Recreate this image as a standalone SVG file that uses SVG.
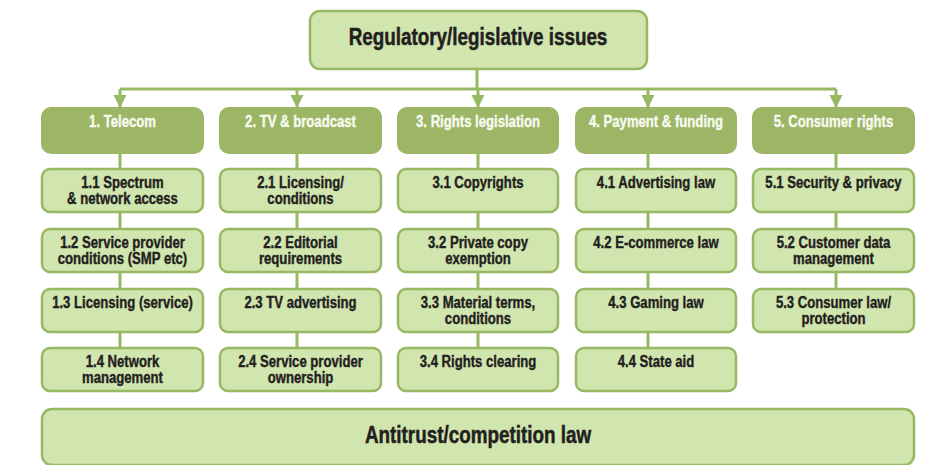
<svg xmlns="http://www.w3.org/2000/svg" width="940" height="465" viewBox="0 0 940 465">
  <defs>
    <style>
      .root { fill: #d1e5ae; stroke: #97b964; stroke-width: 2.5; }
      .head { fill: #9cb665; stroke: #9cb665; stroke-width: 2; }
      .item { fill: #d1e5ae; stroke: #97b964; stroke-width: 2.5; }
      .wire { fill: none; stroke: #97b964; stroke-width: 3; }
      text { font-family: "Liberation Sans", Arial, sans-serif; font-weight: bold; text-anchor: middle; }
      .big { font-size: 23px; fill: #231f20; stroke: #231f20; stroke-width: 0.5; }
      .ht { font-size: 16px; fill: #f8fbf1; stroke: #f8fbf1; stroke-width: 0.35; }
      .it { font-size: 16px; fill: #231f20; stroke: #231f20; stroke-width: 0.4; }
    </style>
    <marker id="arrow" viewBox="0 0 10 10" refX="10" refY="5" markerWidth="4.4" markerHeight="4.4" markerUnits="strokeWidth" orient="auto">
      <path d="M0,0 L10,5 L0,10 Z" fill="#97b964"/>
    </marker>
  </defs>

  <!-- connectors -->
  <g id="connectors">
    <path class="wire" d="M477,69 V89"/>
    <path class="wire" d="M120,89 H836"/>
    <path class="wire" d="M120,89 V108" marker-end="url(#arrow)"/>
    <path class="wire" d="M297,89 V108" marker-end="url(#arrow)"/>
    <path class="wire" d="M478,89 V108" marker-end="url(#arrow)"/>
    <path class="wire" d="M648,89 V108" marker-end="url(#arrow)"/>
    <path class="wire" d="M836,89 V108" marker-end="url(#arrow)"/>
    <path class="wire" d="M120,153 V348"/>
    <path class="wire" d="M297,153 V348"/>
    <path class="wire" d="M478,153 V348"/>
    <path class="wire" d="M648,153 V348"/>
    <path class="wire" d="M836,153 V289"/>
  </g>

  <!-- top node (labels drawn condensed: x scaled to 0.82) -->
  <g id="regulatory">
    <rect class="root" x="310" y="11" width="337" height="58" rx="10"/>
    <text class="big" transform="translate(478 45) scale(0.82 1)">Regulatory/legislative issues</text>
  </g>

  <!-- column 1 -->
  <g id="telecom">
    <rect class="head" x="42" y="108" width="161" height="45" rx="9"/>
    <text class="ht" transform="translate(122.5 127) scale(0.82 1)">1. Telecom</text>
  </g>
  <g id="t1">
    <rect class="item" x="42" y="169" width="161" height="43" rx="8"/>
    <text class="it" transform="translate(122.5 188) scale(0.82 1)">1.1 Spectrum</text>
    <text class="it" transform="translate(122.5 204) scale(0.82 1)">&amp; network access</text>
  </g>
  <g id="t2">
    <rect class="item" x="42" y="229" width="161" height="43" rx="8"/>
    <text class="it" transform="translate(122.5 248) scale(0.82 1)">1.2 Service provider</text>
    <text class="it" transform="translate(122.5 264) scale(0.82 1)">conditions (SMP etc)</text>
  </g>
  <g id="t3">
    <rect class="item" x="42" y="289" width="161" height="43" rx="8"/>
    <text class="it" transform="translate(122.5 308) scale(0.82 1)">1.3 Licensing (service)</text>
  </g>
  <g id="t4">
    <rect class="item" x="42" y="348" width="161" height="43" rx="8"/>
    <text class="it" transform="translate(122.5 367) scale(0.82 1)">1.4 Network</text>
    <text class="it" transform="translate(122.5 383) scale(0.82 1)">management</text>
  </g>

  <!-- column 2 -->
  <g id="tv">
    <rect class="head" x="220" y="108" width="161" height="45" rx="9"/>
    <text class="ht" transform="translate(300.5 127) scale(0.82 1)">2. TV &amp; broadcast</text>
  </g>
  <g id="tv1">
    <rect class="item" x="220" y="169" width="161" height="43" rx="8"/>
    <text class="it" transform="translate(300.5 188) scale(0.82 1)">2.1 Licensing/</text>
    <text class="it" transform="translate(300.5 204) scale(0.82 1)">conditions</text>
  </g>
  <g id="tv2">
    <rect class="item" x="220" y="229" width="161" height="43" rx="8"/>
    <text class="it" transform="translate(300.5 248) scale(0.82 1)">2.2 Editorial</text>
    <text class="it" transform="translate(300.5 264) scale(0.82 1)">requirements</text>
  </g>
  <g id="tv3">
    <rect class="item" x="220" y="289" width="161" height="43" rx="8"/>
    <text class="it" transform="translate(300.5 308) scale(0.82 1)">2.3 TV advertising</text>
  </g>
  <g id="tv4">
    <rect class="item" x="220" y="348" width="161" height="43" rx="8"/>
    <text class="it" transform="translate(300.5 367) scale(0.82 1)">2.4 Service provider</text>
    <text class="it" transform="translate(300.5 383) scale(0.82 1)">ownership</text>
  </g>

  <!-- column 3 -->
  <g id="rights">
    <rect class="head" x="398" y="108" width="160" height="45" rx="9"/>
    <text class="ht" transform="translate(478 127) scale(0.82 1)">3. Rights legislation</text>
  </g>
  <g id="r1">
    <rect class="item" x="398" y="169" width="160" height="43" rx="8"/>
    <text class="it" transform="translate(478 188) scale(0.82 1)">3.1 Copyrights</text>
  </g>
  <g id="r2">
    <rect class="item" x="398" y="229" width="160" height="43" rx="8"/>
    <text class="it" transform="translate(478 248) scale(0.82 1)">3.2 Private copy</text>
    <text class="it" transform="translate(478 264) scale(0.82 1)">exemption</text>
  </g>
  <g id="r3">
    <rect class="item" x="398" y="289" width="160" height="43" rx="8"/>
    <text class="it" transform="translate(478 308) scale(0.82 1)">3.3 Material terms,</text>
    <text class="it" transform="translate(478 324) scale(0.82 1)">conditions</text>
  </g>
  <g id="r4">
    <rect class="item" x="398" y="348" width="160" height="43" rx="8"/>
    <text class="it" transform="translate(478 367) scale(0.82 1)">3.4 Rights clearing</text>
  </g>

  <!-- column 4 -->
  <g id="payment">
    <rect class="head" x="576" y="108" width="160" height="45" rx="9"/>
    <text class="ht" transform="translate(656 127) scale(0.82 1)">4. Payment &amp; funding</text>
  </g>
  <g id="p1">
    <rect class="item" x="576" y="169" width="160" height="43" rx="8"/>
    <text class="it" transform="translate(656 188) scale(0.82 1)">4.1 Advertising law</text>
  </g>
  <g id="p2">
    <rect class="item" x="576" y="229" width="160" height="43" rx="8"/>
    <text class="it" transform="translate(656 248) scale(0.82 1)">4.2 E-commerce law</text>
  </g>
  <g id="p3">
    <rect class="item" x="576" y="289" width="160" height="43" rx="8"/>
    <text class="it" transform="translate(656 308) scale(0.82 1)">4.3 Gaming law</text>
  </g>
  <g id="p4">
    <rect class="item" x="576" y="348" width="160" height="43" rx="8"/>
    <text class="it" transform="translate(656 367) scale(0.82 1)">4.4 State aid</text>
  </g>

  <!-- column 5 -->
  <g id="consumer">
    <rect class="head" x="753" y="108" width="161" height="45" rx="9"/>
    <text class="ht" transform="translate(833.5 127) scale(0.82 1)">5. Consumer rights</text>
  </g>
  <g id="c1">
    <rect class="item" x="753" y="169" width="161" height="43" rx="8"/>
    <text class="it" transform="translate(833.5 188) scale(0.82 1)">5.1 Security &amp; privacy</text>
  </g>
  <g id="c2">
    <rect class="item" x="753" y="229" width="161" height="43" rx="8"/>
    <text class="it" transform="translate(833.5 248) scale(0.82 1)">5.2 Customer data</text>
    <text class="it" transform="translate(833.5 264) scale(0.82 1)">management</text>
  </g>
  <g id="c3">
    <rect class="item" x="753" y="289" width="161" height="43" rx="8"/>
    <text class="it" transform="translate(833.5 308) scale(0.82 1)">5.3 Consumer law/</text>
    <text class="it" transform="translate(833.5 324) scale(0.82 1)">protection</text>
  </g>

  <!-- bottom node -->
  <g id="antitrust">
    <rect class="root" x="42" y="409" width="872" height="56" rx="10"/>
    <text class="big" transform="translate(478 443) scale(0.82 1)">Antitrust/competition law</text>
  </g>
</svg>
